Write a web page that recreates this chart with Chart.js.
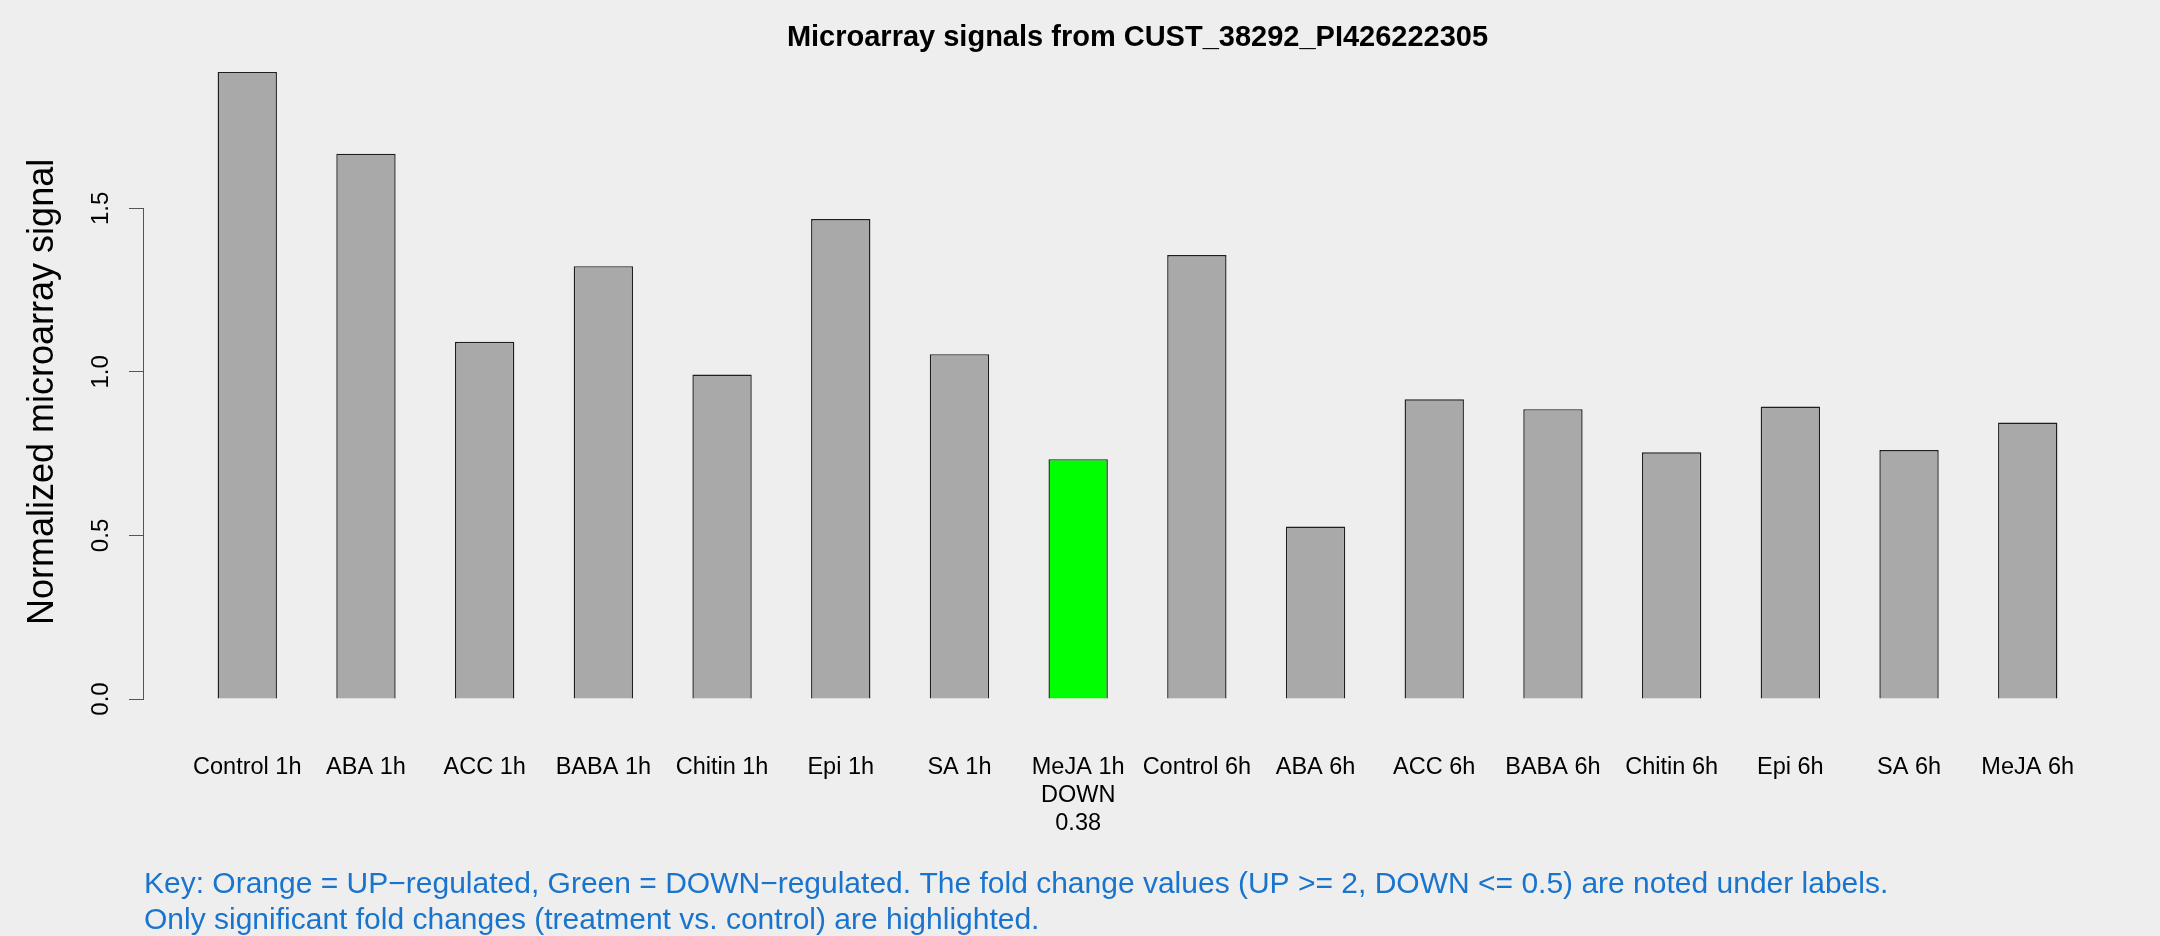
<!DOCTYPE html>
<html>
<head>
<meta charset="utf-8">
<script src="https://cdn.jsdelivr.net/npm/chart.js@4.4.1/dist/chart.umd.min.js"></script>
<style>
  html, body { margin: 0; padding: 0; background: #eeeeee; }
  #wrap { width: 2160px; height: 936px; }
</style>
</head>
<body>
<div id="wrap"><canvas id="myChart" width="2160" height="936"></canvas></div>
<script>
// values
const categories = ['Control 1h', 'ABA 1h', 'ACC 1h', 'BABA 1h', 'Chitin 1h', 'Epi 1h', 'SA 1h', 'MeJA 1h',
    'Control 6h', 'ABA 6h', 'ACC 6h', 'BABA 6h', 'Chitin 6h', 'Epi 6h', 'SA 6h', 'MeJA 6h'];
const signals = [1.917, 1.667, 1.092, 1.323, 0.992, 1.467, 1.054, 0.733,
    1.357, 0.527, 0.916, 0.886, 0.754, 0.894, 0.761, 0.845];
const regulation = ['', '', '', '', '', '', '', 'DOWN', '', '', '', '', '', '', '', ''];
const foldChanges = ['', '', '', '', '', '', '', '0.38', '', '', '', '', '', '', '', ''];
const yTicks = [0, 0.5, 1.0, 1.5];

const title = 'Microarray signals from CUST_38292_PI426222305';
const keyLines = [
    'Key: Orange = UP\u2212regulated, Green = DOWN\u2212regulated. The fold change values (UP >= 2, DOWN <= 0.5) are noted under labels.',
    'Only significant fold changes (treatment vs. control) are highlighted.'
];

const FONT = '"Liberation Sans", Arial, Helvetica, sans-serif';

// barplot-style positions: bar i sits at 1.5 + 2i (width 1, space 1)
const xPos = categories.map((c, i) => 1.5 + 2 * i);
const barColors = regulation.map(r => r === 'DOWN' ? '#00ff00' : (r === 'UP' ? '#ffa500' : '#a9a9a9'));
const xLabels = categories.map((c, i) => regulation[i] ? [c, regulation[i], foldChanges[i]] : c);

// y axis line only spans first to last tick, like base R
const axisLine = {
    id: 'axisLine',
    afterDraw(chart) {
        const y = chart.scales.y;
        const c = chart.ctx;
        const x = Math.round(y.right) - 0.5;
        c.save();
        c.strokeStyle = '#555555';
        c.lineWidth = 1;
        c.beginPath();
        c.moveTo(x, Math.round(y.getPixelForValue(yTicks[0])) + 0.5);
        c.lineTo(x, Math.round(y.getPixelForValue(yTicks[yTicks.length - 1])) + 0.5);
        c.stroke();
        c.restore();
    }
};

const ctx = document.getElementById('myChart');

new Chart(ctx, {
    type: 'bar',
    data: {
        datasets: [{
            data: signals.map((v, i) => ({ x: xPos[i], y: v })),
            backgroundColor: barColors,
            borderColor: '#1e1e1e',
            borderWidth: 1.4,
            barPercentage: 0.5,
            categoryPercentage: 1.0
        }]
    },
    options: {
        responsive: false,
        animation: false,
        layout: { padding: { left: 0, right: 29, top: 0, bottom: 0 } },
        plugins: {
            legend: { display: false },
            tooltip: { enabled: false },
            title: {
                display: true,
                text: title,
                fullSize: false,
                color: '#000000',
                font: { family: FONT, size: 29, weight: 'bold', lineHeight: 1.2 },
                padding: { top: 21, bottom: 4 }
            },
            subtitle: {
                display: true,
                text: keyLines,
                position: 'bottom',
                align: 'start',
                fullSize: false,
                color: '#1874cd',
                font: { family: FONT, size: 30, weight: 'normal', lineHeight: 1.2 },
                padding: { top: 0, bottom: -3 }
            }
        },
        scales: {
            x: {
                type: 'linear',
                offset: false,
                min: -0.24,
                max: 33.24,
                grid: { display: false, drawTicks: false },
                border: { display: false },
                afterBuildTicks: (scale) => { scale.ticks = xPos.map(v => ({ value: v })); },
                afterFit: (scale) => { scale.height = 143; },
                ticks: {
                    autoSkip: false,
                    maxRotation: 0,
                    minRotation: 0,
                    padding: 30,
                    color: '#000000',
                    font: { family: FONT, size: 23.5, lineHeight: 1.19 },
                    callback: (value, index) => xLabels[index]
                }
            },
            y: {
                min: -0.0764,
                max: 1.954,
                grid: {
                    drawOnChartArea: false,
                    drawTicks: true,
                    tickLength: 15,
                    color: '#555555',
                    lineWidth: 1
                },
                border: { display: false },
                afterBuildTicks: (scale) => { scale.ticks = yTicks.map(v => ({ value: v })); },
                afterFit: (scale) => { scale.width = 144; },
                ticks: {
                    minRotation: 90,
                    maxRotation: 90,
                    crossAlign: 'center',
                    padding: 11,
                    color: '#000000',
                    font: { family: FONT, size: 24 },
                    callback: (value) => value.toFixed(1)
                },
                title: {
                    display: true,
                    text: 'Normalized microarray signal',
                    color: '#000000',
                    font: { family: FONT, size: 36, lineHeight: 1.2 },
                    padding: { top: 21, bottom: 0 }
                }
            }
        }
    },
    plugins: [axisLine]
});
</script>
</body>
</html>
